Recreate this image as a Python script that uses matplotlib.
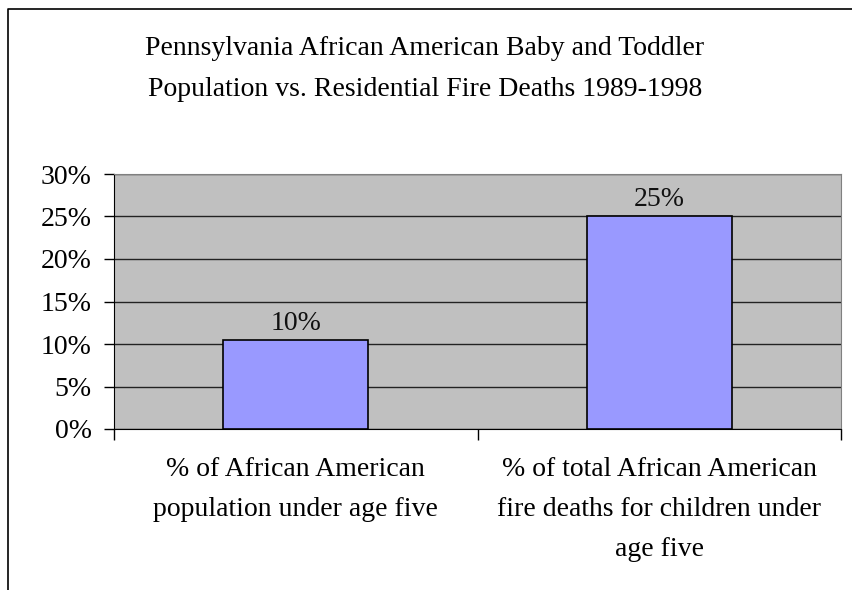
import matplotlib.pyplot as plt
from matplotlib.lines import Line2D
from matplotlib.ticker import FixedLocator, PercentFormatter

# values
categories = ["% of African American\npopulation under age five",
              "% of total African American\nfire deaths for children under\nage five"]
values = [0.105, 0.25]
value_labels = ["10%", "25%"]
yticks = [0, 0.05, 0.10, 0.15, 0.20, 0.25, 0.30]
title = "Pennsylvania African American Baby and Toddler\nPopulation vs. Residential Fire Deaths 1989-1998"

plt.rcParams["font.family"] = ["Liberation Serif", "DejaVu Serif"]
FS = 20

fig = plt.figure(figsize=(8.52, 5.9), dpi=100)
ax = fig.add_axes([114 / 852, 161 / 590, 727 / 852, 255 / 590])
ax.set_facecolor("#C0C0C0")

x = list(range(len(categories)))
ax.bar(x, values, width=0.4, color="#9999FF", edgecolor="black", linewidth=1.2, zorder=3)
for xi, v, lab in zip(x, values, value_labels):
    ax.annotate(lab, (xi, v), xytext=(0, 3), textcoords="offset points",
                ha="center", va="bottom", fontsize=FS, color="#111111")

ax.set_xlim(-0.5, 1.5)
ax.set_ylim(0, 0.30)
ax.set_yticks(yticks)
ax.yaxis.set_major_formatter(PercentFormatter(1.0, decimals=0))
ax.yaxis.grid(True, color="#222222", linewidth=1.0, zorder=1)
ax.tick_params(axis="y", labelsize=FS, length=7, width=1, direction="out", pad=9)

ax.set_xticks(x)
ax.set_xticklabels(categories)
ax.xaxis.set_minor_locator(FixedLocator([-0.5, 0.5, 1.5]))
ax.tick_params(axis="x", which="major", length=0, labelsize=FS, pad=20)
ax.tick_params(axis="x", which="minor", length=8, width=1, direction="out")
for t in ax.get_xticklabels():
    t.set_linespacing(1.8)

for side in ["top", "right"]:
    ax.spines[side].set_color("#808080")
for side in ["left", "bottom"]:
    ax.spines[side].set_color("black")

fig.text(425 / 852, 1 - 69 / 590, title, ha="center", va="center",
         fontsize=FS, linespacing=1.8)

# outer chart frame (left and top)
fig.add_artist(Line2D([8 / 852, 8 / 852, 1.0], [0, 1 - 9 / 590, 1 - 9 / 590],
                      transform=fig.transFigure, color="black", linewidth=1.2))

fig.savefig("out.png", dpi=100)
